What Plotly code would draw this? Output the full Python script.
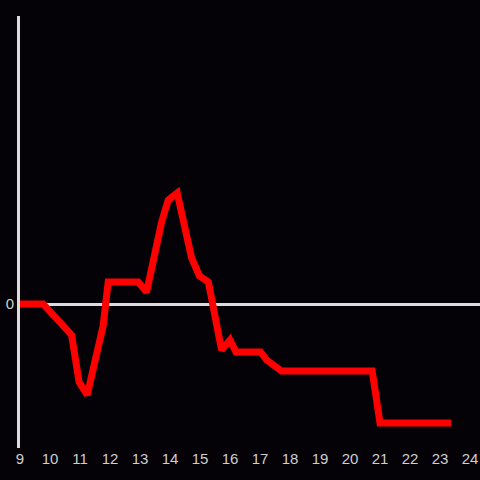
import plotly.graph_objects as go

hours = [9.0, 9.77, 10.72, 10.97, 11.24, 11.77, 11.94, 12.94, 13.22, 13.72, 13.94, 14.24,
         14.72, 14.98, 15.28, 15.72, 16.0, 16.2, 17.02, 17.22, 17.72, 20.74, 21.0, 23.37]
values = [0.0, 0.0, -3.1, -7.8, -9.1, -2.2, 2.2, 2.2, 1.2, 8.2, 10.4, 11.1,
          4.6, 2.8, 2.2, -4.6, -3.6, -4.8, -4.8, -5.6, -6.7, -6.7, -11.9, -11.9]
x_ticks = list(range(9, 25))

bg = "#040206"
axis_col = "#dcdcdc"
font_col = "#cfcfcf"

fig = go.Figure(go.Scatter(x=hours, y=values, mode="lines",
                           line=dict(color="#ff0000", width=7)))
fig.update_layout(
    width=480, height=480,
    paper_bgcolor=bg, plot_bgcolor=bg,
    margin=dict(l=20, r=0, t=16, b=32),
    showlegend=False,
    font=dict(family="Liberation Sans, Arial, sans-serif", size=14, color=font_col),
    xaxis=dict(range=[9, 9 + 460 / 30], tickvals=x_ticks, ticktext=[str(t) for t in x_ticks],
               tickfont=dict(size=15),
               showgrid=False, zeroline=False, showline=False, ticks="", ticklen=0),
    yaxis=dict(range=[-14.4, 28.8], tickvals=[0], ticktext=["0"], tickfont=dict(size=15),
               showgrid=False, zeroline=True, zerolinecolor=axis_col, zerolinewidth=3,
               showline=True, linecolor=axis_col, linewidth=3, ticks="", ticklen=0),
)
fig.write_html("out.html", config={"displayModeBar": False},
               post_script="document.body.style.margin='0';document.body.style.background='%s';" % bg)
